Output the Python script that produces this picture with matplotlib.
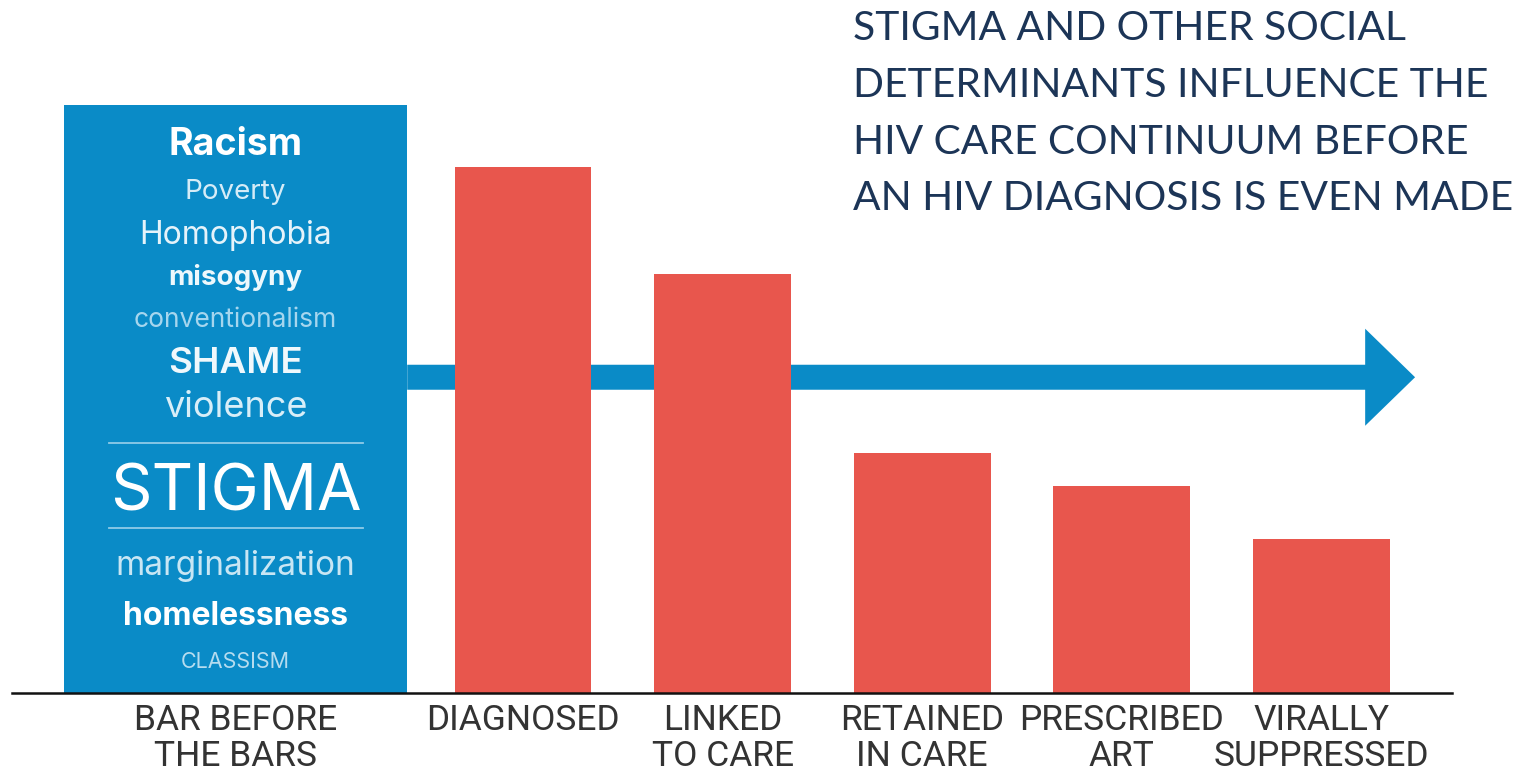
import numpy as np
import matplotlib.pyplot as plt
from matplotlib import font_manager
from matplotlib.patches import FancyArrow

# Stages of the continuum, with the "bar before the bars" first
stages = ['BAR BEFORE\nTHE BARS', 'DIAGNOSED', 'LINKED\nTO CARE',
          'RETAINED\nIN CARE', 'PRESCRIBED\nART', 'VIRALLY\nSUPPRESSED']
heights = [100.0, 89.5, 71.3, 40.8, 35.2, 26.2]

# Words stacked inside the blue bar
words = ['Racism', 'Poverty', 'Homophobia', 'misogyny', 'conventionalism',
         'SHAME', 'violence', 'STIGMA', 'marginalization', 'homelessness',
         'CLASSISM']
word_sizes = [27, 20, 23, 20, 19, 26.5, 26, 46.5, 24, 23, 15.5]
word_weights = ['bold', 'normal', 'normal', 'bold', 'normal', 'semibold',
                'normal', 'normal', 'normal', 'bold', 'normal']
word_colors = ['#ffffff', '#d5ecf7', '#e5f3fa', '#eef8fc', '#a6d6ee',
               '#f0f8fc', '#d8eef8', '#ffffff', '#c8e6f4', '#ffffff', '#b5dcef']
word_baselines = [91.5, 84.0, 76.4, 69.4, 62.2, 54.4, 46.9, 31.1, 20.1, 11.6, 4.3]
rule_levels = [42.5, 28.1]

arrow_level = 53.7

title = ('STIGMA AND OTHER SOCIAL\nDETERMINANTS INFLUENCE THE\n'
         'HIV CARE CONTINUUM BEFORE\nAN HIV DIAGNOSIS IS EVEN MADE')

BLUE = '#0a8bc7'
RED = '#e8564d'

installed = {f.name for f in font_manager.fontManager.ttflist}
label_font = 'Liberation Sans Narrow' if 'Liberation Sans Narrow' in installed else 'Roboto'

positions = np.array([-0.44, 1, 2, 3, 4, 5], dtype=float)
widths = [1.72] + [0.686] * 5
colors = [BLUE] + [RED] * 5

fig = plt.figure(figsize=(15.22, 7.77), dpi=100)
ax = fig.add_axes([12 / 1522, 84 / 777, 1440 / 1522, 588 / 777])
ax.set_xlim(-1.56, 5.654)
ax.set_ylim(0, 100)

bars = ax.bar(positions, heights, width=widths, color=colors, zorder=2)

# arrow running from the right edge of the blue bar, behind the red bars
x0 = positions[0] + widths[0] / 2
x1 = 5.469
ax.add_patch(FancyArrow(x0, arrow_level, x1 - x0, 0, width=4.25,
                        head_width=16.5, head_length=0.25,
                        length_includes_head=True, color=BLUE, lw=0, zorder=1))

# words inside the blue bar
for w, s, wt, c, yb in zip(words, word_sizes, word_weights, word_colors, word_baselines):
    ax.text(positions[0], yb, w, fontsize=s, fontweight=wt, color=c,
            family='Inter', ha='center', va='baseline', zorder=3)
for lvl in rule_levels:
    half = widths[0] * 0.37
    ax.plot([positions[0] - half, positions[0] + half], [lvl, lvl],
            color='#8fcbe8', lw=1.3, zorder=3)

for side in ['top', 'right', 'left']:
    ax.spines[side].set_visible(False)
ax.spines['bottom'].set_linewidth(1.8)
ax.spines['bottom'].set_color('#111111')
ax.set_yticks([])
ax.set_xticks(positions)
ax.set_xticklabels(stages, fontsize=25.5, family=label_font, color='#333333',
                   linespacing=1.1)
ax.tick_params(axis='x', length=0, pad=8)

fig.text(853 / 1522, 1 - 10 / 777, title, fontsize=29.3, family='Lato',
         color='#1c3557', ha='left', va='top', linespacing=1.66)

fig.savefig('out.png', dpi=100)
